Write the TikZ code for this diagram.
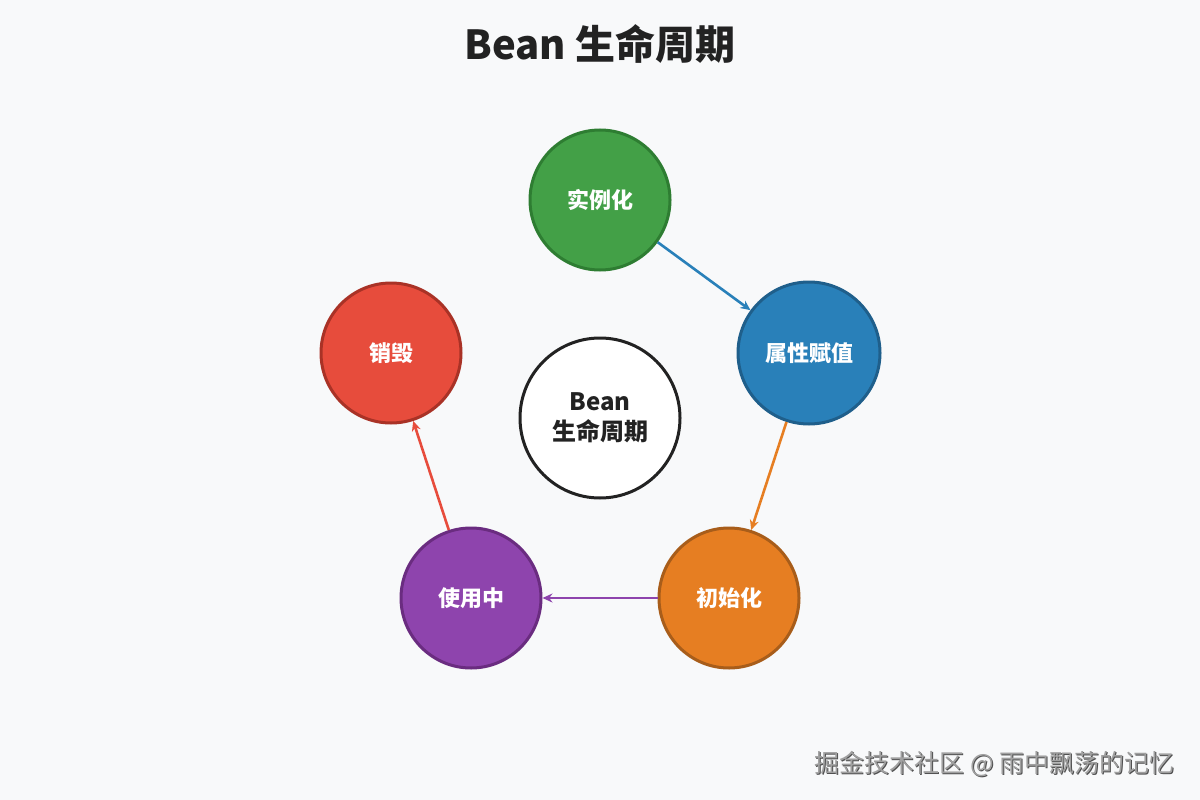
\documentclass[tikz,border=0pt]{standalone}
\usepackage{fontspec}
\setmainfont{Noto Sans CJK SC}
\newfontfamily\cjk{Noto Sans CJK SC}
\usetikzlibrary{arrows.meta}
\definecolor{bg}{HTML}{F8F9FA}
\definecolor{gfill}{HTML}{43A047}
\definecolor{gline}{HTML}{2E7D32}
\definecolor{bfill}{HTML}{2980B9}
\definecolor{bline}{HTML}{1F5F8B}
\definecolor{ofill}{HTML}{E67E22}
\definecolor{oline}{HTML}{A85D1A}
\definecolor{pfill}{HTML}{8E44AD}
\definecolor{pline}{HTML}{6A2C80}
\definecolor{rfill}{HTML}{E74C3C}
\definecolor{rline}{HTML}{A93226}
\definecolor{txt}{HTML}{222222}
\definecolor{wm}{HTML}{A0A0A0}
\definecolor{wmshadow}{HTML}{505050}
\tikzset{
  stage/.style={circle, minimum size=140pt, inner sep=0pt, line width=3pt, text=white,
    font=\cjk\bfseries\fontsize{22}{26}\selectfont},
  conn/.style={line width=2.6pt, -{Stealth[length=10pt,width=9pt]}},
}
\begin{document}
\begin{tikzpicture}[x=1pt,y=-1pt]
\fill[bg] (0,0) rectangle (1200,800);
\useasboundingbox (0,0) rectangle (1200,800);
\node[font=\cjk\bfseries\fontsize{40}{46}\selectfont, text=txt] (title) at (600,44) {Bean 生命周期};
\node[circle, minimum size=160pt, inner sep=0pt, line width=3pt, draw=txt, fill=white, text=txt,
  align=center, font=\cjk\bfseries\fontsize{24}{30}\selectfont] (center) at (600,418) {Bean\\生命周期};
\node[stage, fill=gfill, draw=gline] (inst) at (600,200) {实例化};
\node[stage, fill=bfill, draw=bline, minimum size=142pt] (prop) at (809,353) {属性赋值};
\node[stage, fill=ofill, draw=oline] (init) at (729,598) {初始化};
\node[stage, fill=pfill, draw=pline] (use) at (471,598) {使用中};
\node[stage, fill=rfill, draw=rline] (dest) at (391,353) {销毁};
\draw[conn, draw=bfill, fill=bfill] (inst) -- (prop);
\draw[conn, draw=ofill, fill=ofill] (prop) -- (init);
\draw[conn, draw=pfill, fill=pfill] (init) -- (use);
\draw[conn, draw=rfill, fill=rfill] (use) -- (dest);
\node[anchor=east, text=wmshadow, font=\cjk\fontsize{25}{30}\selectfont] (wms) at (1179,765) {掘金技术社区 @ 雨中飘荡的记忆};
\node[anchor=east, text=wm, font=\cjk\fontsize{25}{30}\selectfont] (wmt) at (1178,764) {掘金技术社区 @ 雨中飘荡的记忆};
\end{tikzpicture}
\end{document}
